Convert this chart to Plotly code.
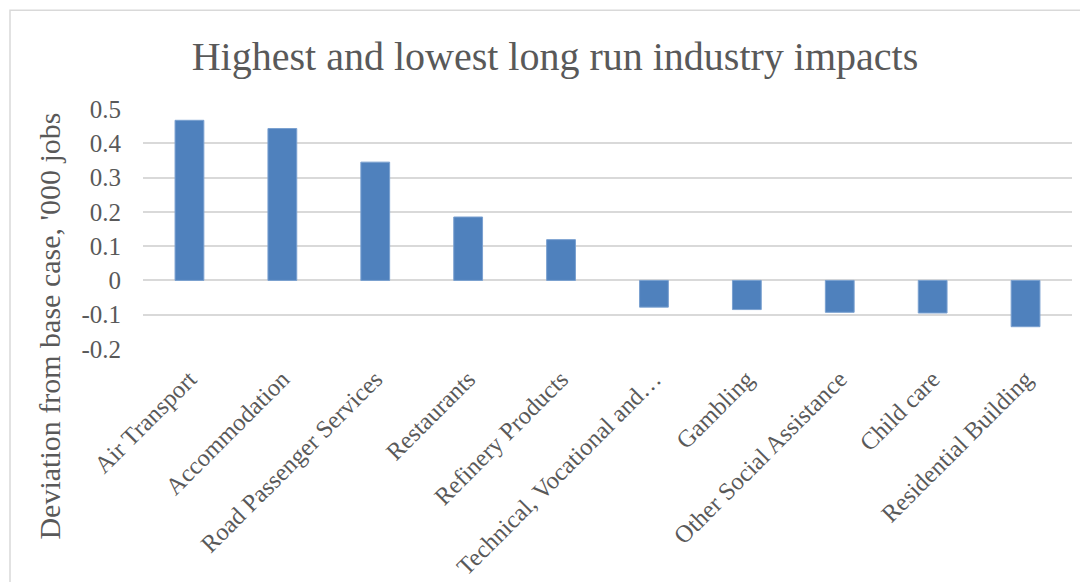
import plotly.graph_objects as go

categories = ["Air Transport", "Accommodation", "Road Passenger Services", "Restaurants",
              "Refinery Products", "Technical, Vocational and…", "Gambling",
              "Other Social Assistance", "Child care", "Residential Building"]
values = [0.467, 0.443, 0.345, 0.185, 0.119, -0.078, -0.085, -0.093, -0.095, -0.135]
y_tick_vals = [0.5, 0.4, 0.3, 0.2, 0.1, 0, -0.1, -0.2]
y_tick_text = ["0.5", "0.4", "0.3", "0.2", "0.1", "0", "-0.1", "-0.2"]

FONT = "Liberation Serif"
GRAY = "#595959"
OFF = 8  # page body margin

fig = go.Figure()
fig.add_trace(go.Bar(
    x=categories, y=values,
    marker=dict(color="#4f81bd", line=dict(color="#7aa0d0", width=1)),
    width=0.31,
))

W, H = 1088, 582
L = 143 - OFF
T = 109 - OFF
R = W - (1072 - OFF)
B = H - (349.5 - OFF)
pw = W - L - R
ph = H - T - B

def px_to_paper_x(px):
    return (px - OFF - L) / pw

def px_to_paper_y(py):
    return (T + ph - (py - OFF)) / ph

fig.update_layout(
    width=W, height=H,
    margin=dict(l=L, r=R, t=T, b=B, autoexpand=False),
    paper_bgcolor="white", plot_bgcolor="white",
    showlegend=False,
    title=dict(text="Highest and lowest long run industry impacts",
               font=dict(family=FONT, size=40, color=GRAY),
               x=(555 - OFF) / W, xanchor="center", y=1 - (56 - OFF) / H, yanchor="middle"),
    font=dict(family=FONT, color=GRAY),
    xaxis=dict(tickangle=-45, tickfont=dict(family=FONT, size=24.5, color=GRAY),
               showgrid=False, showline=False, ticks="", ticklabelstandoff=10),
    yaxis=dict(range=[-0.2, 0.5], tickvals=y_tick_vals, ticktext=y_tick_text,
               tickfont=dict(family=FONT, size=25, color=GRAY),
               showgrid=True, gridcolor="#d9d9d9", gridwidth=1.5,
               zeroline=False, showline=False, ticks="", ticklabelstandoff=21),
    annotations=[dict(text="Deviation from base case, '000 jobs", textangle=-90,
                      xref="paper", yref="paper",
                      x=px_to_paper_x(50), y=px_to_paper_y(327),
                      xanchor="center", yanchor="middle", showarrow=False,
                      font=dict(family=FONT, size=30, color=GRAY))],
    shapes=[dict(type="rect", xref="paper", yref="paper",
                 x0=px_to_paper_x(10), x1=px_to_paper_x(W + 20),
                 y0=px_to_paper_y(H + 20), y1=px_to_paper_y(10),
                 line=dict(color="#d9d9d9", width=1.5), fillcolor="rgba(0,0,0,0)",
                 layer="below")],
)

fig.write_html("out.html")
